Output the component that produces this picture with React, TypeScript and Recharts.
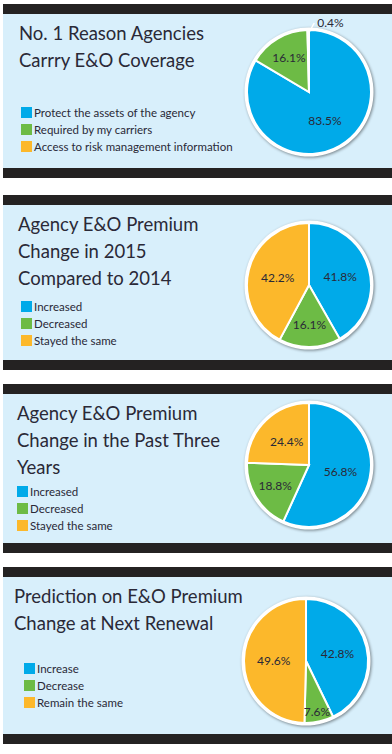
import { Cell, Legend, Pie, PieChart } from "recharts";

const COLORS = ["#00aae9", "#6dbb45", "#fcb82b"];
const DARK = "#242222";
const BODY = "#d8effb";
const INK = "#2a2937";

const reasonNames = ["Protect the assets of the agency", "Required by my carriers", "Access to risk management information"];
const reasonValues = [83.5, 16.1, 0.4];

const change2015Names = ["Increased", "Decreased", "Stayed the same"];
const change2015Values = [41.8, 16.1, 42.2];

const threeYearNames = ["Increased", "Decreased", "Stayed the same"];
const threeYearValues = [56.8, 18.8, 24.4];

const renewalNames = ["Increase", "Decrease", "Remain the same"];
const renewalValues = [42.8, 7.6, 49.6];

const RAD = Math.PI / 180;

function renderLabel(props: any) {
  const { cx, cy, midAngle, outerRadius, percent, value } = props;
  const text = `${Number(value).toFixed(1)}%`;
  const cos = Math.cos(-midAngle * RAD);
  const sin = Math.sin(-midAngle * RAD);
  if (percent < 0.02) {
    // tiny slice: label outside with a short white leader
    const sx = cx + (outerRadius - 2) * cos;
    const sy = cy + (outerRadius - 2) * sin;
    return (
      <g>
        <line x1={sx + 1} y1={sy} x2={sx + 6} y2={sy - 9} stroke="#fff" strokeWidth={1.5} />
        <text x={sx + 9} y={sy - 10} fill={INK} fontSize={12} fontFamily="Lato" dominantBaseline="central">
          {text}
        </text>
      </g>
    );
  }
  const k = percent < 0.1 ? 0.83 : percent < 0.2 ? 0.64 : 0.52;
  return (
    <text
      x={cx + outerRadius * k * cos}
      y={cy + outerRadius * k * sin}
      fill={INK}
      fontSize={12}
      fontFamily="Lato"
      textAnchor="middle"
      dominantBaseline="central"
    >
      {text}
    </text>
  );
}

const makeLegend = (names: string[]) => ({ payload }: any) => {
  const items = (payload ?? [])
    .filter((entry: any) => entry.type !== "none" && names.includes(entry.value))
    .sort((a: any, b: any) => names.indexOf(a.value) - names.indexOf(b.value));
  return (
    <div style={{ fontFamily: "Lato", fontSize: 11.5, color: INK }}>
      {items.map((entry: any) => (
        <div key={entry.value} style={{ display: "flex", alignItems: "center", height: 17, whiteSpace: "nowrap" }}>
          <span style={{ width: 11, height: 11, background: COLORS[names.indexOf(entry.value)], marginRight: 2, flex: "none" }} />
          <span>{entry.value}</span>
        </div>
      ))}
    </div>
  );
};

type PanelProps = {
  title: string[];
  names: string[];
  values: number[];
  marginTop: number;
  height: number;
  cx: number;
  cy: number;
  titleLeft: number;
  legendLeft: number;
  legendTop: number;
};

function Panel({ title, names, values, marginTop, height, cx, cy, titleLeft, legendLeft, legendTop }: PanelProps) {
  const data = names.map((name, i) => ({ name, value: values[i] }));
  return (
    <div style={{ marginTop, marginLeft: 3, width: 389 }}>
      <div style={{ height: 10, background: DARK }} />
      <div style={{ position: "relative", height, background: BODY }}>
        <PieChart width={389} height={height} margin={{ top: 0, right: 0, bottom: 0, left: 0 }}>
          <Pie
            data={[{ name: "ring", value: 1 }]}
            dataKey="value"
            cx={cx}
            cy={cy}
            outerRadius={64.5}
            stroke="none"
            legendType="none"
            isAnimationActive={false}
          >
            <Cell fill="#fff" style={{ filter: "drop-shadow(1px 1.5px 1.5px rgba(0,0,0,0.45))" }} />
          </Pie>
          <Pie
            data={data}
            dataKey="value"
            nameKey="name"
            cx={cx}
            cy={cy}
            outerRadius={62}
            startAngle={90}
            endAngle={-270}
            stroke="#fff"
            strokeWidth={2}
            label={renderLabel}
            labelLine={false}
            isAnimationActive={false}
          >
            {data.map((_, i) => (
              <Cell key={i} fill={COLORS[i]} />
            ))}
          </Pie>
          <Legend
            layout="vertical"
            align="center"
            verticalAlign="middle"
            content={makeLegend(names)}
            wrapperStyle={{ left: legendLeft, top: legendTop, width: "auto" }}
          />
        </PieChart>
        <div
          style={{
            position: "absolute",
            left: titleLeft,
            top: 6,
            fontFamily: "Lato",
            fontSize: 18.5,
            lineHeight: "27px",
            color: INK,
            whiteSpace: "nowrap",
          }}
        >
          {title.map((line) => (
            <div key={line}>{line}</div>
          ))}
        </div>
      </div>
      <div style={{ height: 10, background: DARK }} />
    </div>
  );
}

export default function App() {
  return (
    <div style={{ position: "absolute", left: 0, top: 0, width: 392, height: 754, background: "#fff", overflow: "hidden" }}>
      <Panel
        title={["No. 1 Reason Agencies", "Carrry E&O Coverage"]}
        names={reasonNames}
        values={reasonValues}
        marginTop={4}
        height={154}
        cx={306}
        cy={78}
        titleLeft={16}
        legendLeft={18}
        legendTop={90}
      />
      <Panel
        title={["Agency E&O Premium", "Change in 2015", "Compared to 2014"]}
        names={change2015Names}
        values={change2015Values}
        marginTop={17}
        height={155}
        cx={306}
        cy={80}
        titleLeft={15}
        legendLeft={18}
        legendTop={93}
      />
      <Panel
        title={["Agency E&O Premium", "Change in the Past Three", "Years"]}
        names={threeYearNames}
        values={threeYearValues}
        marginTop={14}
        height={149}
        cx={306}
        cy={71}
        titleLeft={14}
        legendLeft={14}
        legendTop={89}
      />
      <Panel
        title={["Prediction on E&O Premium", "Change at Next Renewal"]}
        names={renewalNames}
        values={renewalValues}
        marginTop={14}
        height={157}
        cx={303}
        cy={84}
        titleLeft={11}
        legendLeft={21}
        legendTop={83}
      />
    </div>
  );
}
